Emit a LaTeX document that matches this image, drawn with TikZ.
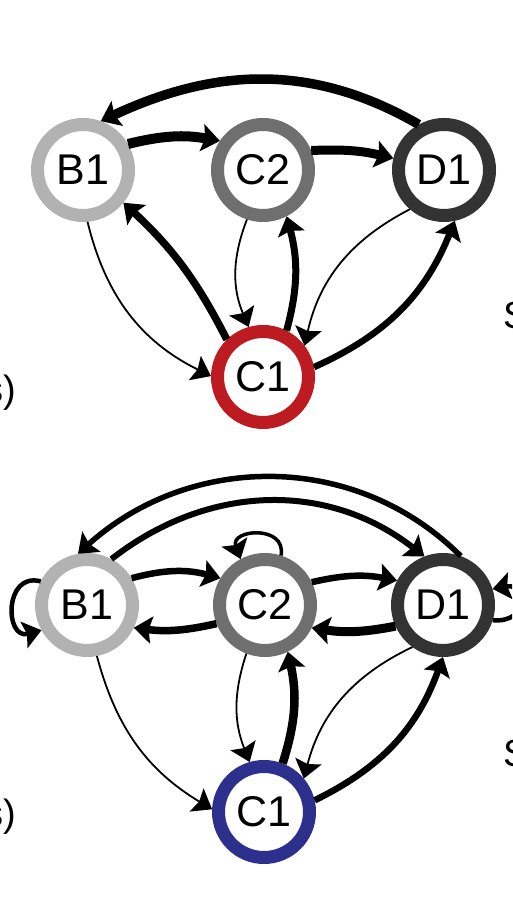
\documentclass[tikz,border=0pt]{standalone}
\usepackage{fontspec}
\setmainfont{Liberation Sans}
\usetikzlibrary{arrows.meta}
\definecolor{ringB}{HTML}{B2B2B2}
\definecolor{ringC}{HTML}{6F6F70}
\definecolor{ringD}{HTML}{333333}
\definecolor{ringRed}{HTML}{BC1B22}
\definecolor{ringBlue}{HTML}{2C308C}
\tikzset{
  state/.style={circle, minimum size=91pt, inner sep=0pt, line width=13pt, fill=white,
    font=\fontsize{43}{43}\selectfont},
  edge/.style={-{Stealth[length=18pt,width=27pt,inset=3pt]}, line cap=butt},
  thinedge/.style={edge, line width=1.8pt},
  side/.style={font=\fontsize{38}{38}\selectfont, inner sep=0pt}
}
\begin{document}
\begin{tikzpicture}[x=1pt,y=1pt]
\useasboundingbox (0,0) rectangle (512,907);
\clip (0,0) rectangle (512,907);
% ---------- top graph ----------
\node[state, draw=ringB] (tB1) at (83,737) {B1};
\node[state, draw=ringC] (tC2) at (263,737) {C2};
\node[state, draw=ringD] (tD1) at (444,737) {D1};
\node[state, draw=ringRed] (tC1) at (263,530) {C1};
\node[side, anchor=east] (tL) at (16,514) {s)};
\node[side, anchor=west] (tR) at (503,592) {S};

\draw[edge, line width=9.5pt] (tD1.119) to[out=150,in=25] (tB1.70);
\draw[edge, line width=10pt] (tB1.30) to[bend left=12] (tC2.146);
\draw[edge, line width=9pt] (tC2.22) to[bend left=8] (tD1.167);
\draw[edge, line width=7.5pt] (tC1.134) to[bend right=10] (tB1.-39);
\draw[edge, line width=7pt] (tC1.63) to[bend right=15] (tC2.-63);
\draw[edge, line width=6.5pt] (tC1.11) to[bend right=22] (tD1.-78);
\draw[thinedge] (tB1.-85) to[bend right=25] (tC1.179);
\draw[thinedge] (tC2.-108) to[bend right=22] (tC1.106);
\draw[thinedge] (tD1.-131) to[bend right=25] (tC1.37);

% ---------- bottom graph ----------
\node[state, draw=ringB] (bB1) at (87,302) {B1};
\node[state, draw=ringC] (bC2) at (265,302) {C2};
\node[state, draw=ringD] (bD1) at (443,302) {D1};
\node[state, draw=ringBlue] (bC1) at (264,95) {C1};
\node[side, anchor=east] (bL) at (16,90) {s)};
\node[side, anchor=west] (bR) at (503,154) {S};

\draw[edge, line width=6pt] (bB1.62) to[out=38,in=142] (bD1.111);
\draw[edge, line width=5.5pt] (bD1.70) to[out=135,in=42] (bB1.100);
\draw[edge, line width=4.5pt] (bB1.153) to[out=165,in=195,looseness=2] (bB1.-151);
\draw[edge, line width=3.5pt] (bC2.72) to[out=80,in=110,looseness=2] (bC2.118);
\draw[edge, line width=4.5pt] (bD1.-17) to[out=-5,in=10,looseness=3] (bD1.18);
\draw[edge, line width=6.5pt] (bB1.31) to[bend left=15] (bC2.149);
\draw[edge, line width=7.5pt] (bC2.201) to[bend left=10] (bB1.-26);
\draw[edge, line width=6.5pt] (bC2.26) to[bend left=12] (bD1.152);
\draw[edge, line width=9pt] (bD1.204) to[bend left=10] (bC2.-26);
\draw[thinedge] (bB1.-79) to[bend right=22] (bC1.177);
\draw[thinedge] (bC2.-111) to[bend right=20] (bC1.106);
\draw[edge, line width=8.5pt] (bC1.69) to[bend right=15] (bC2.-64);
\draw[thinedge] (bD1.-126) to[bend right=25] (bC1.40);
\draw[edge, line width=6.5pt] (bC1.13) to[bend right=22] (bD1.-90);
\end{tikzpicture}
\end{document}
